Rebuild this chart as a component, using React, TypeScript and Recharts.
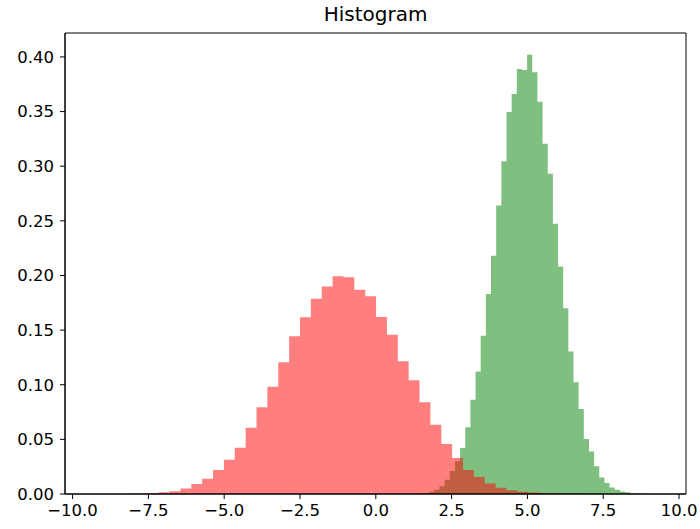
import React from 'react';
import { ComposedChart, Area, XAxis, YAxis, ReferenceArea } from 'recharts';

const chartTitle = 'Histogram';

// red histogram: bin start, bin width, density per bin
const redStart = -9.31;
const redBinWidth = 0.3584;
const redHeights = [
  0.00005, 0.0001, 0.0001, 0.0002, 0.0005, 0.0009, 0.0015, 0.0026, 0.005, 0.0092,
  0.014, 0.022, 0.0314, 0.0424, 0.0607, 0.0793, 0.0982, 0.1205, 0.1443, 0.1617,
  0.1788, 0.19, 0.1992, 0.1983, 0.187, 0.181, 0.162, 0.1458, 0.1214, 0.104,
  0.0839, 0.0634, 0.0458, 0.033, 0.022, 0.0155, 0.0095, 0.0058, 0.0035, 0.002,
  0.0013, 0.0008, 0.0005, 0.0003, 0.0002, 0.0001, 0.00005, 0.00005, 0.00003, 0.00003,
];

// green histogram
const greenStart = 0.74;
const greenBinWidth = 0.17;
const greenHeights = [
  0.00005, 0.00005, 0.0001, 0.0003, 0.0006, 0.001, 0.002, 0.004, 0.007, 0.013,
  0.021, 0.03, 0.0421, 0.061, 0.0863, 0.1122, 0.1449, 0.183, 0.218, 0.264,
  0.3045, 0.3497, 0.366, 0.389, 0.388, 0.402, 0.386, 0.359, 0.3206, 0.293,
  0.2474, 0.2083, 0.17, 0.1305, 0.1022, 0.0778, 0.0503, 0.039, 0.0253, 0.0152,
  0.01, 0.006, 0.004, 0.0024, 0.0015, 0.0008, 0.0004, 0.0002, 0.0001, 0.0001,
];

const xTicks = [-10, -7.5, -5, -2.5, 0, 2.5, 5, 7.5, 10];
const yTicks = [0, 0.05, 0.1, 0.15, 0.2, 0.25, 0.3, 0.35, 0.4];
const xDomain: [number, number] = [-10.25, 10.23];
const yDomain: [number, number] = [0, 0.4219];

function toSteps(start: number, width: number, heights: number[]) {
  const pts = heights.map((h, i) => ({ x: start + i * width, y: h }));
  pts.push({ x: start + heights.length * width, y: heights[heights.length - 1] });
  return pts;
}

const redData = toSteps(redStart, redBinWidth, redHeights);
const greenData = toSteps(greenStart, greenBinWidth, greenHeights);

const font = 'DejaVu Sans, sans-serif';
const tickStyle = { fontSize: 16.5, fill: '#000', fontFamily: font };

export default function App() {
  return (
    <div style={{ position: 'fixed', left: 0, top: 0, width: 700, height: 529, background: '#fff' }}>
      <div
        style={{
          position: 'absolute',
          left: 0,
          top: 2,
          width: 751,
          textAlign: 'center',
          fontFamily: font,
          fontSize: 20,
          lineHeight: '24px',
          color: '#000',
        }}
      >
        {chartTitle}
      </div>
      <ComposedChart width={700} height={529} margin={{ top: 33, right: 14, bottom: 0, left: 0 }}>
        <XAxis
          type="number"
          dataKey="x"
          domain={xDomain}
          ticks={xTicks}
          interval={0}
          allowDataOverflow
          tickFormatter={(v: number) => v.toFixed(1).replace('-', '\u2212')}
          tick={tickStyle}
          tickSize={5}
          tickMargin={5}
          height={35}
          stroke="#000"
        />
        <YAxis
          type="number"
          domain={yDomain}
          ticks={yTicks}
          interval={0}
          allowDataOverflow
          tickFormatter={(v: number) => v.toFixed(2)}
          tick={tickStyle}
          tickSize={5}
          tickMargin={6}
          width={65}
          stroke="#000"
        />
        <Area
          data={greenData}
          dataKey="y"
          type="stepAfter"
          fill="#008000"
          fillOpacity={0.5}
          stroke="none"
          dot={false}
          activeDot={false}
          isAnimationActive={false}
        />
        <Area
          data={redData}
          dataKey="y"
          type="stepAfter"
          fill="#ff0000"
          fillOpacity={0.5}
          stroke="none"
          dot={false}
          activeDot={false}
          isAnimationActive={false}
        />
        <ReferenceArea
          x1={xDomain[0]}
          x2={xDomain[1]}
          y1={yDomain[0]}
          y2={yDomain[1]}
          fill="none"
          stroke="#000"
          strokeWidth={1}
          ifOverflow="visible"
        />
      </ComposedChart>
    </div>
  );
}
